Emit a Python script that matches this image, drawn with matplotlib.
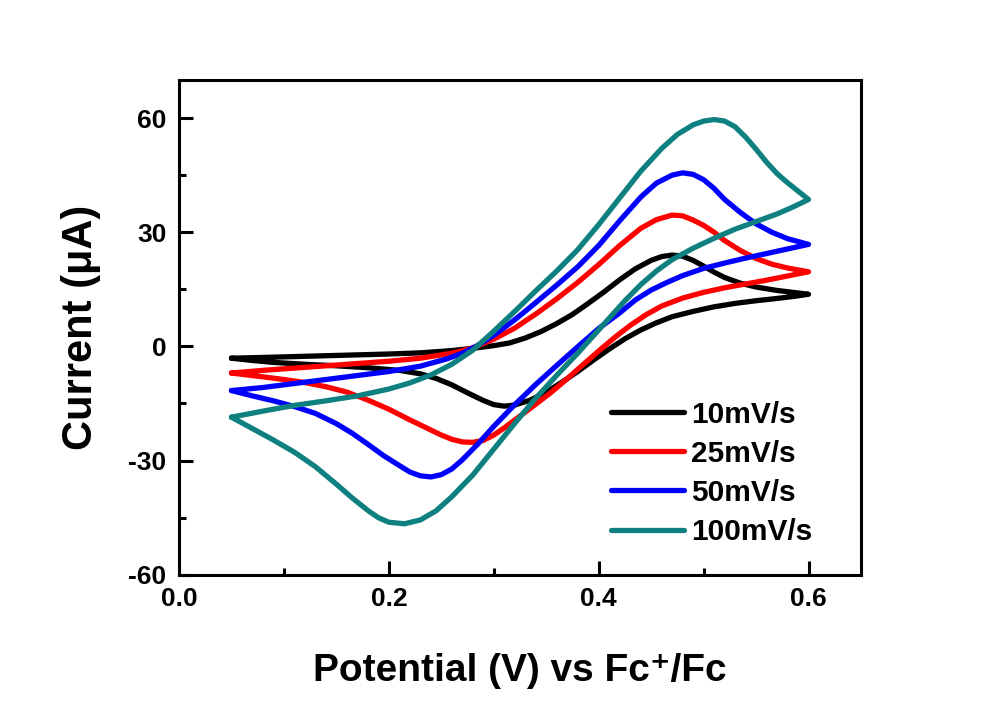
import matplotlib
matplotlib.use('Agg')
import matplotlib.pyplot as plt
from matplotlib.ticker import MultipleLocator

plt.rcParams['font.family'] = ['Liberation Sans', 'DejaVu Sans']
plt.rcParams['font.weight'] = 'bold'
plt.rcParams['axes.unicode_minus'] = False

# cyclic voltammograms: forward scan (upper branch) then reverse scan (lower branch)
labels = ['10mV/s', '25mV/s', '50mV/s', '100mV/s']
colors = ['#000000', '#ff0000', '#0000ff', '#0f8080']

e_10 = [0.05, 0.08, 0.12, 0.16, 0.20, 0.23, 0.26, 0.28, 0.30, 0.315, 0.33, 0.345, 0.36,
        0.375, 0.39, 0.405, 0.42, 0.435, 0.45, 0.46, 0.47, 0.48, 0.49, 0.50, 0.51, 0.52,
        0.535, 0.55, 0.57, 0.585, 0.60,
        0.585, 0.57, 0.55, 0.53, 0.51, 0.49, 0.47, 0.455, 0.44, 0.425, 0.41, 0.395, 0.38,
        0.365, 0.35, 0.335, 0.32, 0.31, 0.30, 0.29, 0.275, 0.26, 0.245, 0.23, 0.21, 0.18,
        0.15, 0.12, 0.09, 0.07, 0.05]
i_10 = [-3.1, -2.9, -2.6, -2.3, -2.0, -1.7, -1.1, -0.5, 0.2, 0.9, 2.2, 3.9, 6.0,
        8.4, 11.3, 14.3, 17.5, 20.4, 22.6, 23.6, 24.0, 23.7, 22.6, 21.1, 19.5, 18.1,
        16.6, 15.6, 14.7, 14.2, 13.7,
        13.1, 12.6, 12.0, 11.3, 10.4, 9.2, 7.8, 6.2, 4.3, 2.0, -0.7, -3.6, -6.6,
        -9.4, -12.0, -14.1, -15.4, -15.7, -15.3, -14.2, -12.2, -10.1, -8.4, -7.2, -6.3, -5.6,
        -5.1, -4.7, -4.2, -3.7, -3.1]

e_25 = [0.05, 0.08, 0.12, 0.16, 0.20, 0.23, 0.26, 0.28, 0.30, 0.32, 0.34, 0.36, 0.38,
        0.40, 0.42, 0.44, 0.455, 0.47, 0.48, 0.49, 0.50, 0.51, 0.52, 0.535, 0.55, 0.565,
        0.58, 0.60,
        0.58, 0.56, 0.54, 0.52, 0.50, 0.48, 0.46, 0.445, 0.43, 0.415, 0.40, 0.385, 0.37,
        0.355, 0.34, 0.325, 0.31, 0.30, 0.29, 0.28, 0.27, 0.26, 0.25, 0.235, 0.22, 0.20,
        0.18, 0.16, 0.14, 0.12, 0.10, 0.08, 0.05]
i_25 = [-7.0, -6.3, -5.5, -4.7, -3.9, -3.1, -1.8, -0.4, 1.9, 4.8, 8.5, 12.5, 16.8,
        21.5, 26.5, 31.0, 33.3, 34.5, 34.3, 33.2, 31.8, 30.0, 27.8, 25.2, 23.1, 21.6,
        20.6, 19.6,
        18.5, 17.4, 16.4, 15.4, 14.2, 12.7, 10.6, 8.3, 5.5, 2.3, -1.2, -4.8, -8.5,
        -12.0, -15.2, -18.3, -21.4, -23.3, -24.7, -25.2, -25.1, -24.4, -23.3, -21.3, -19.3, -16.5,
        -14.1, -12.0, -10.6, -9.5, -8.7, -8.0, -7.0]

e_50 = [0.05, 0.08, 0.12, 0.16, 0.20, 0.23, 0.255, 0.27, 0.285, 0.30, 0.32, 0.34, 0.36,
        0.38, 0.40, 0.42, 0.44, 0.455, 0.47, 0.48, 0.49, 0.50, 0.51, 0.52, 0.535, 0.55,
        0.565, 0.58, 0.60,
        0.58, 0.56, 0.54, 0.52, 0.50, 0.48, 0.465, 0.45, 0.435, 0.42, 0.40, 0.38, 0.36,
        0.34, 0.32, 0.30, 0.285, 0.27, 0.26, 0.25, 0.24, 0.23, 0.22, 0.21, 0.195, 0.18,
        0.165, 0.15, 0.13, 0.11, 0.09, 0.07, 0.05]
i_50 = [-11.6, -10.8, -9.4, -8.0, -6.6, -5.2, -3.3, -1.8, 0.3, 2.9, 7.0, 11.5, 16.1,
        20.9, 26.5, 33.0, 39.2, 42.9, 45.0, 45.6, 45.2, 43.8, 41.5, 38.6, 35.2, 32.2,
        30.0, 28.3, 26.8,
        25.6, 24.4, 23.2, 21.9, 20.5, 18.6, 16.8, 14.8, 12.2, 8.8, 4.7, -0.1, -5.0,
        -10.0, -15.3, -21.0, -25.6, -29.8, -32.2, -33.7, -34.3, -34.0, -33.0, -31.3, -28.7, -25.7,
        -22.8, -20.3, -17.6, -15.8, -14.3, -13.0, -11.6]

e_100 = [0.05, 0.08, 0.11, 0.14, 0.17, 0.20, 0.22, 0.24, 0.26, 0.28, 0.30, 0.32, 0.34,
         0.36, 0.38, 0.40, 0.42, 0.44, 0.46, 0.475, 0.49, 0.50, 0.51, 0.52, 0.53, 0.54,
         0.55, 0.56, 0.57, 0.58, 0.59, 0.60,
         0.585, 0.57, 0.55, 0.53, 0.51, 0.49, 0.47, 0.455, 0.44, 0.425, 0.41, 0.395, 0.38,
         0.36, 0.34, 0.32, 0.30, 0.28, 0.26, 0.245, 0.23, 0.215, 0.20, 0.19, 0.18, 0.165,
         0.15, 0.13, 0.11, 0.09, 0.07, 0.05]
i_100 = [-18.6, -17.0, -15.5, -14.3, -13.0, -11.2, -9.6, -7.5, -4.7, -1.0, 4.0, 9.2, 14.6,
         19.8, 25.4, 32.0, 39.0, 46.0, 52.0, 55.7, 58.2, 59.2, 59.6, 59.2, 57.7, 55.0,
         51.8, 48.4, 45.4, 43.0, 40.8, 38.6,
         36.6, 34.8, 32.8, 30.8, 28.4, 25.8, 22.8, 19.8, 16.2, 12.0, 7.4, 2.8, -1.8,
         -7.6, -13.6, -20.2, -27.0, -33.8, -39.5, -43.2, -45.6, -46.6, -46.2, -45.0, -43.1, -39.8,
         -36.2, -31.6, -27.8, -24.6, -21.6, -18.6]

potentials = [e_10, e_25, e_50, e_100]
currents = [i_10, i_25, i_50, i_100]

fig = plt.figure(figsize=(10, 7.14), dpi=100)
ax = fig.add_axes([0.179, 0.195, 0.682, 0.693])

for e, i, lab, col in zip(potentials, currents, labels, colors):
    ax.plot(e, i, color=col, lw=3.8, label=lab,
            solid_joinstyle='round', solid_capstyle='round')

ax.set_xlim(0.0, 0.65)
ax.set_ylim(-60, 70)
ax.xaxis.set_minor_locator(MultipleLocator(0.1))
ax.yaxis.set_minor_locator(MultipleLocator(15))
ax.set_xticks([0.0, 0.2, 0.4, 0.6])
ax.set_xticklabels(['0.0', '0.2', '0.4', '0.6'])
ax.set_yticks([-60, -30, 0, 30, 60])

ax.tick_params(which='both', direction='in', top=False, right=False,
               width=2.2, labelsize=19, pad=9)
ax.tick_params(which='major', length=10)
ax.tick_params(which='minor', length=5)
for sp in ax.spines.values():
    sp.set_linewidth(2.2)

ax.set_xlabel('Potential (V) vs Fc\u207a/Fc', fontsize=28, fontweight='bold', labelpad=30)
ax.set_ylabel('Current (\u03bcA)', fontsize=30, fontweight='bold', labelpad=20)

leg = ax.legend(loc='lower right', frameon=False, fontsize=21.5, handlelength=2.45,
                handletextpad=0.23, labelspacing=0.37, borderpad=0,
                bbox_to_anchor=(0.95, 0.028))
for t in leg.get_texts():
    t.set_fontweight('bold')

fig.savefig('out.png', dpi=100)
